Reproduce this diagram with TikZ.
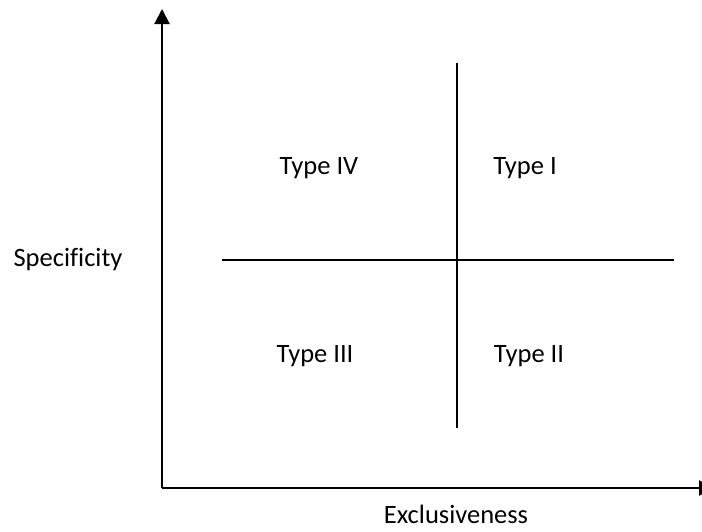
\documentclass[tikz,border=0pt]{standalone}
\usepackage{fontspec}
\setmainfont[Ligatures={NoCommon}]{Carlito}
\usetikzlibrary{arrows.meta}
\begin{document}
\begin{tikzpicture}[x=1pt,y=-1pt,
  lbl/.style={font=\fontsize{26.5}{30}\selectfont, inner sep=0pt, anchor=base},
  axis/.style={line width=2.2pt, -{Triangle[length=15pt,width=15pt]}},
  divider/.style={line width=1.4pt}]
\useasboundingbox (0,0) rectangle (702,531);
\clip (0,0) rectangle (702,531);
\coordinate (O) at (162,488);
\coordinate (Ytop) at (162,9);
\coordinate (Xend) at (714,488);
\coordinate (Vt) at (457,63);
\coordinate (Vb) at (457,428);
\coordinate (Hl) at (222,260);
\coordinate (Hr) at (674,260);
\draw[axis] (O) -- (Ytop);
\draw[axis] (O) -- (Xend);
\draw[divider] (Vt) -- (Vb);
\draw[divider] (Hl) -- (Hr);
\node[lbl] (t4) at (319,174) {Type IV};
\node[lbl] (t1) at (525,174) {Type I};
\node[lbl] (t3) at (315,362) {Type III};
\node[lbl] (t2) at (529,362) {Type II};
\node[lbl] (sp) at (68,266) {Specificity};
\node[lbl, text depth=0pt] (ex) at (456,523) {Exclusiveness};
\end{tikzpicture}
\end{document}
